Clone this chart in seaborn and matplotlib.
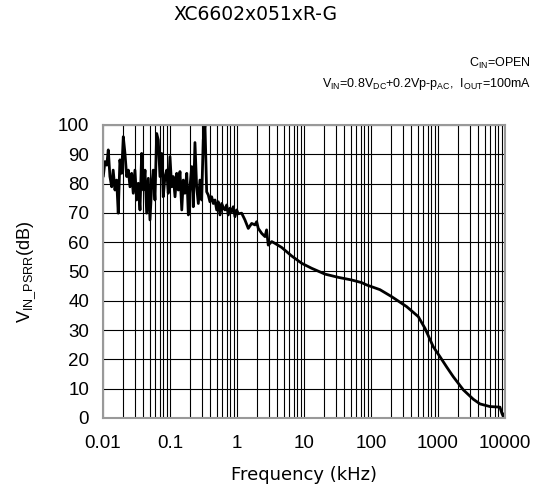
import matplotlib
matplotlib.use("Agg")
import matplotlib.pyplot as plt
from matplotlib.ticker import LogLocator, FixedLocator, NullFormatter
import numpy as np
import pandas as pd
import seaborn as sns

# frequency sweep (kHz) and PSRR (dB)
freq_khz = [0.0101, 0.0107, 0.0114, 0.0120, 0.0127, 0.0135, 0.0142, 0.0151, 0.0160, 0.0169,
            0.0179, 0.0190, 0.0201, 0.0213, 0.0226, 0.0239, 0.0253, 0.0268, 0.0283, 0.0300,
            0.0318, 0.0336, 0.0357, 0.0378, 0.0400, 0.0424, 0.0449, 0.0475, 0.0503, 0.0533,
            0.0563, 0.0597, 0.0633, 0.0669, 0.0709, 0.0752, 0.0794, 0.0842, 0.0893, 0.0943,
            0.100, 0.106, 0.112, 0.119, 0.126, 0.133, 0.141, 0.150, 0.158, 0.167,
            0.178, 0.188, 0.199, 0.211, 0.223, 0.236, 0.250, 0.265, 0.280, 0.297,
            0.314, 0.333, 0.353, 0.373, 0.395, 0.419, 0.443, 0.470, 0.498, 0.526,
            0.558, 0.591, 0.624, 0.662, 0.702, 0.742, 0.786, 0.834, 0.881, 0.934,
            0.990, 1.046, 1.175, 1.315, 1.475, 1.656, 1.856, 1.968, 2.08, 2.34,
            2.62, 2.77, 2.93, 3.30, 3.69, 4.65, 6.55, 9.25, 13.0, 20.6,
            32.5, 51.5, 72.6, 86.3, 136, 204, 341, 508, 640, 851,
            1072, 1349, 1690, 2388, 3367, 4236, 5971, 8420, 9020, 9500, 10000]
psrr_db = [82.4, 87.5, 86.3, 91.5, 82.4, 78.9, 84.6, 77.8, 81.2, 69.9,
           88.1, 83.5, 96.0, 90.3, 82.4, 84.6, 78.9, 83.5, 76.7, 84.6,
           74.4, 80.1, 71.0, 90.3, 77.8, 84.6, 69.9, 81.8, 67.6, 78.9,
           84.6, 74.4, 97.1, 94.9, 82.4, 90.3, 75.5, 82.4, 84.6, 76.7,
           89.2, 78.9, 82.4, 75.5, 83.5, 77.8, 84.1, 71.0, 81.2, 76.7,
           83.5, 69.3, 78.9, 85.8, 72.1, 94.0, 78.9, 73.2, 81.2, 74.4,
           94.9, 100.0, 77.2, 76.1, 73.8, 75.5, 73.2, 74.4, 71.0, 73.8,
           69.3, 73.2, 71.9, 71.0, 72.7, 69.3, 71.6, 70.4, 72.1, 68.7,
           71.0, 69.7, 69.9, 67.6, 64.7, 66.4, 65.9, 67.0, 64.7, 63.0,
           61.9, 64.2, 59.0, 60.2, 59.6, 58.2, 55.3, 52.8, 51.1, 49.1,
           48.0, 47.1, 46.2, 45.4, 43.8, 41.4, 38.0, 34.6, 30.6, 24.3,
           20.9, 17.4, 14.1, 9.6, 6.4, 4.8, 3.9, 3.7, 1.5, 0.4, 1.8]

x_ticks = [0.01, 0.1, 1, 10, 100, 1000, 10000]
x_labels = ["0.01", "0.1", "1", "10", "100", "1000", "10000"]
y_ticks = [0, 10, 20, 30, 40, 50, 60, 70, 80, 90, 100]

df = pd.DataFrame({"freq": freq_khz, "psrr": psrr_db})

sns.set_style("white")
plt.rcParams["font.family"] = ["Liberation Sans", "DejaVu Sans"]
plt.rcParams["text.color"] = "black"
plt.rcParams["axes.labelcolor"] = "black"
plt.rcParams["xtick.color"] = "black"
plt.rcParams["ytick.color"] = "black"

fig = plt.figure(figsize=(5.38, 4.95), dpi=100)
ax = fig.add_axes([0.1914, 0.1556, 0.7472, 0.5919])

sns.lineplot(data=df, x="freq", y="psrr", ax=ax, color="black", linewidth=2.0,
             errorbar=None, sort=False)

ax.set_xscale("log")
ax.set_xlim(0.01, 10000)
ax.set_ylim(0, 100)
ax.xaxis.set_major_locator(FixedLocator(x_ticks))
ax.set_xticklabels(x_labels)
ax.xaxis.set_minor_locator(LogLocator(base=10, subs=np.arange(2, 10)))
ax.xaxis.set_minor_formatter(NullFormatter())
ax.set_yticks(y_ticks)
ax.set_yticklabels([str(v) for v in y_ticks])
ax.tick_params(axis="both", which="both", length=0, labelsize=13.5, pad=10,
               labelcolor="black")
ax.tick_params(axis="x", pad=12)
ax.grid(True, which="both", color="black", linewidth=0.8)
ax.set_axisbelow(True)
for sp in ax.spines.values():
    sp.set_color("#999999")
    sp.set_linewidth(1.5)

ax.set_xlabel("Frequency (kHz)", fontsize=13, family="DejaVu Sans", labelpad=10)
ax.set_ylabel(r"$\mathregular{V_{IN\_PSRR}}$(dB)", fontsize=13, labelpad=14)

fig.text(256 / 538, 1 - 15 / 495, "XC6602x051xR-G", ha="center", va="center",
         fontsize=13.5, family="DejaVu Sans")
fig.text(531 / 538, 1 - 63 / 495, r"$\mathregular{C_{IN}}$=OPEN", ha="right", va="center",
         fontsize=9)
fig.text(531 / 538, 1 - 84 / 495,
         r"$\mathregular{V_{IN}}$=0.8$\mathregular{V_{DC}}$+0.2Vp-$\mathregular{p_{AC}}$,  "
         r"$\mathregular{I_{OUT}}$=100mA", ha="right", va="center", fontsize=9)

fig.savefig("out.png", dpi=100)
